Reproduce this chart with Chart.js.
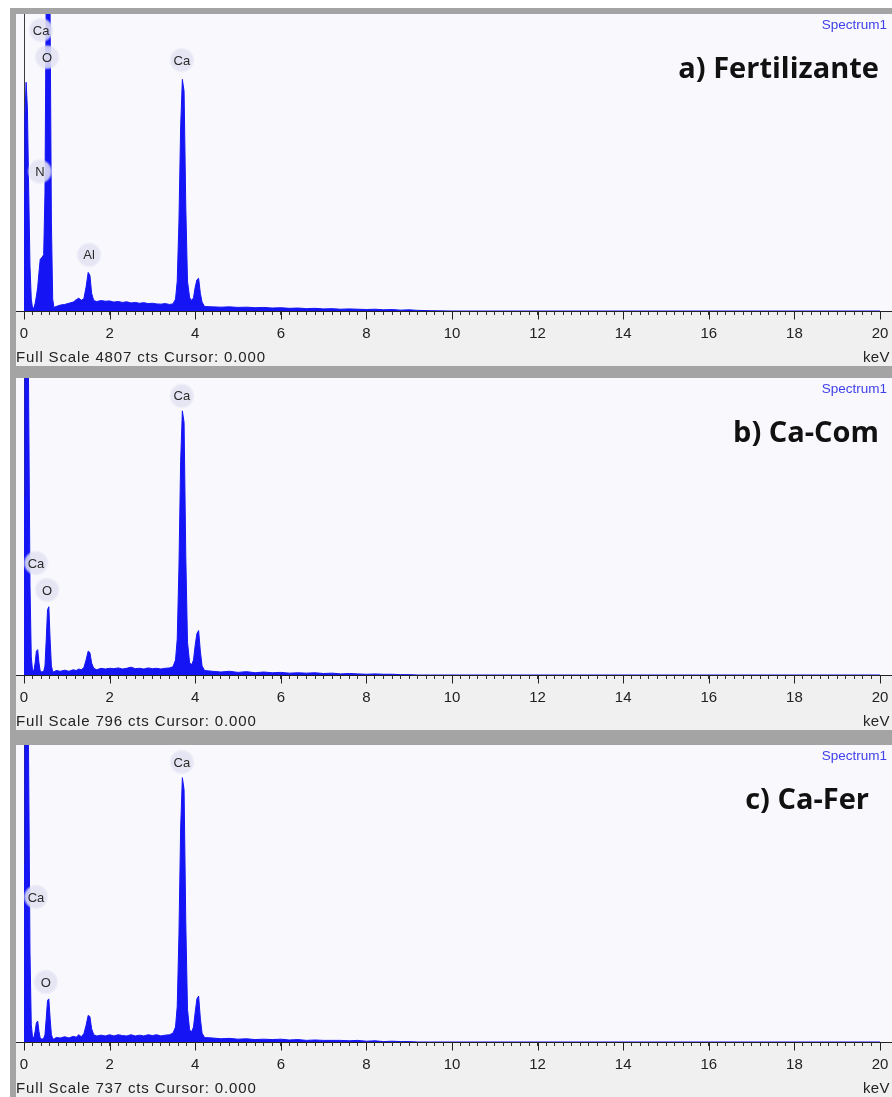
<!DOCTYPE html>
<html lang="es">
<head>
<meta charset="UTF-8">
<title>EDS Spectrum1</title>
<script src="https://cdn.jsdelivr.net/npm/chart.js"></script>
<style>
    html, body { margin: 0; padding: 0; background: #fff; }
    body { width: 892px; height: 1097px; position: relative; overflow: hidden; font-family: "Liberation Sans", Arial, sans-serif; }
    .frame { position: absolute; left: 10px; top: 8px; width: 882px; height: 1089px; background: #a4a4a4; }
    .plotbg { position: absolute; left: 16px; width: 876px; background: #f8f8fd; }
    .axisbg { position: absolute; left: 16px; width: 876px; background: #f0f0f0; }
    canvas { position: absolute; left: 0; }
    .spec { position: absolute; right: 5px; color: #4040ec; font-size: 13.5px; line-height: 16px; }
    .title { position: absolute; font-family: "Open Sans", "Noto Sans", sans-serif; font-weight: 700; font-size: 29px; line-height: 34px; color: #111; white-space: nowrap; }
    .fs { position: absolute; left: 16px; font-size: 15px; letter-spacing: 0.85px; line-height: 18px; color: #222; white-space: nowrap; }
    .kev { position: absolute; right: 2px; font-size: 15px; letter-spacing: 0.4px; line-height: 18px; color: #222; }
</style>
</head>
<body>
<div class="frame"></div>
<script>
    // energy axis (keV), shared by the three spectra
    const energy = [
        0.00, 0.02, 0.05, 0.08, 0.11, 0.14, 0.17, 0.20, 0.23, 0.26, 0.29, 0.32, 0.35, 0.38, 0.42, 0.46, 0.49, 0.52, 0.55, 0.58, 0.61, 0.64, 0.67, 0.70,
        0.75, 0.85, 0.95, 1.05, 1.15, 1.22, 1.28, 1.34, 1.40, 1.45, 1.50, 1.54, 1.58, 1.63, 1.70,
        1.80, 1.90, 2.00, 2.10, 2.20, 2.30, 2.40, 2.50, 2.60, 2.70, 2.80, 2.90, 3.00, 3.10, 3.20, 3.30, 3.40,
        3.48, 3.54, 3.58, 3.62, 3.66, 3.70, 3.74, 3.78, 3.82, 3.87, 3.92, 3.96, 4.00, 4.04, 4.08, 4.12, 4.16, 4.22,
        4.40, 4.60, 4.80, 5.00, 5.20, 5.40, 5.60, 5.80, 6.00, 6.20, 6.40, 6.60, 6.80, 7.00, 7.20, 7.40, 7.60, 7.80, 8.00, 8.20, 8.40, 8.60, 8.80, 9.00, 9.20,
        9.50, 10.0, 20.0
    ];

    // counts, a) Fertilizante
    const countsA = [
        1923, 3125, 3701, 3269, 1923, 721, 192, 48, 48, 120, 240, 385, 625, 841, 865, 913, 1923, 5288, 6730, 6730, 4807, 1442, 192, 58,
        72, 96, 106, 125, 144, 183, 207, 173, 202, 385, 625, 577, 288, 168, 154,
        168, 159, 163, 144, 154, 139, 149, 130, 139, 125, 135, 120, 125, 115, 111, 120, 106,
        115, 192, 481, 1442, 2980, 3749, 3557, 1682, 481, 216, 168, 216, 385, 505, 529, 288, 144, 72,
        67, 62, 67, 58, 62, 53, 58, 48, 53, 43, 48, 38, 43, 34, 38, 29, 34, 29, 24, 29, 19, 24, 14, 19, 10,
        5, 0, 0
    ];

    // counts, b) Ca-Com
    const countsB = [
        478, 955, 1274, 1194, 716, 239, 48, 12, 12, 32, 64, 68, 32, 10, 8, 10, 24, 96, 175, 183, 96, 24, 10, 8,
        12, 10, 13, 10, 14, 12, 16, 14, 20, 40, 64, 60, 32, 18, 14,
        18, 16, 18, 17, 19, 16, 18, 21, 17, 18, 16, 19, 17, 18, 16, 18, 19,
        22, 40, 96, 287, 573, 708, 677, 318, 88, 32, 28, 40, 80, 111, 119, 64, 24, 12,
        10, 8, 10, 7, 9, 6, 8, 6, 7, 5, 6, 5, 6, 4, 5, 3, 4, 3, 2, 3, 2, 2, 1, 1, 0,
        0, 0, 0
    ];

    // counts, c) Ca-Fer
    const countsC = [
        442, 884, 1179, 1106, 663, 221, 44, 11, 11, 26, 48, 52, 26, 9, 7, 9, 18, 59, 103, 107, 59, 18, 9, 7,
        11, 10, 13, 10, 14, 12, 18, 13, 21, 41, 66, 63, 33, 18, 15,
        17, 15, 18, 15, 18, 16, 15, 18, 15, 17, 15, 18, 16, 18, 15, 17, 18,
        22, 37, 88, 265, 531, 656, 626, 295, 81, 29, 26, 37, 74, 107, 114, 59, 22, 11,
        10, 8, 9, 7, 8, 6, 7, 6, 7, 5, 6, 4, 5, 4, 4, 4, 3, 4, 2, 3, 1, 2, 1, 1, 0,
        0, 0, 0
    ];

    const fullScale = [4807, 796, 737];
    const panelTitles = ['a) Fertilizante', 'b) Ca-Com', 'c) Ca-Fer'];
    const majorTicks = [0, 2, 4, 6, 8, 10, 12, 14, 16, 18, 20];
    const cursorKeV = 0.000;

    // element markers: [label, keV, counts]
    const peaksA = [['Ca', 0.40, 4547], ['O', 0.54, 4109], ['N', 0.37, 2258], ['Al', 1.52, 909], ['Ca', 3.69, 4060]];
    const peaksB = [['Ca', 3.69, 748], ['Ca', 0.28, 300], ['O', 0.54, 228]];
    const peaksC = [['Ca', 3.69, 695], ['Ca', 0.28, 360], ['O', 0.51, 149]];

    const panelTops = [14, 378, 745];
    const titleRight = [13, 13, 23];
    const plotH = 297;
    const axisH = 56;

    const series = [countsA, countsB, countsC];
    const peaks = [peaksA, peaksB, peaksC];

    const frameMarks = {
        id: 'frameMarks',
        beforeDatasetsDraw(chart) {
            const {ctx, chartArea, scales} = chart;
            let x = Math.round(scales.x.getPixelForValue(cursorKeV)) + 0.5;
            ctx.save();
            ctx.strokeStyle = '#3c3c3c';
            ctx.lineWidth = 1;
            ctx.beginPath();
            ctx.moveTo(x, chartArea.top);
            ctx.lineTo(x, chartArea.bottom);
            ctx.stroke();
            ctx.restore();
        },
        afterDatasetsDraw(chart, args, opts) {
            const {ctx, scales} = chart;
            ctx.save();
            for (let p of opts.peaks) {
                let x = scales.x.getPixelForValue(p[1]);
                let y = scales.y.getPixelForValue(p[2]);
                let g = ctx.createRadialGradient(x, y, 2, x, y, 13);
                g.addColorStop(0, 'rgba(226,226,242,0.95)');
                g.addColorStop(0.75, 'rgba(226,226,242,0.85)');
                g.addColorStop(1, 'rgba(226,226,242,0)');
                ctx.fillStyle = g;
                ctx.beginPath();
                ctx.arc(x, y, 13, 0, Math.PI * 2);
                ctx.fill();
                ctx.fillStyle = '#2a2a2a';
                ctx.font = '13px "Liberation Sans", Arial, sans-serif';
                ctx.textAlign = 'center';
                ctx.textBaseline = 'middle';
                ctx.fillText(p[0], x, y + 1);
            }
            ctx.restore();
        },
        afterDraw(chart) {
            const {ctx, chartArea, scales} = chart;
            let y = chartArea.bottom + 0.5;
            ctx.save();
            ctx.strokeStyle = '#222';
            ctx.lineWidth = 1;
            ctx.beginPath();
            ctx.moveTo(16, y);
            ctx.lineTo(chart.width, y);
            for (let v of majorTicks) {
                let x = Math.round(scales.x.getPixelForValue(v)) + 0.5;
                ctx.moveTo(x, y);
                ctx.lineTo(x, y + 8);
            }
            ctx.stroke();
            ctx.restore();
        }
    };

    for (let i = 0; i < 3; i++) {
        let top = panelTops[i];

        let bg = document.createElement('div');
        bg.className = 'plotbg';
        bg.style.top = top + 'px';
        bg.style.height = plotH + 'px';
        document.body.appendChild(bg);

        let ax = document.createElement('div');
        ax.className = 'axisbg';
        ax.style.top = (top + plotH) + 'px';
        ax.style.height = (axisH - 1) + 'px';
        document.body.appendChild(ax);

        let cv = document.createElement('canvas');
        cv.width = 892;
        cv.height = plotH + axisH;
        cv.style.top = top + 'px';
        document.body.appendChild(cv);

        let spec = document.createElement('div');
        spec.className = 'spec';
        spec.style.top = (top + 3) + 'px';
        spec.textContent = 'Spectrum1';
        document.body.appendChild(spec);

        let t = document.createElement('div');
        t.className = 'title';
        t.style.top = (top + 36) + 'px';
        t.style.right = titleRight[i] + 'px';
        t.textContent = panelTitles[i];
        document.body.appendChild(t);

        let fs = document.createElement('div');
        fs.className = 'fs';
        fs.style.top = (top + plotH + 37) + 'px';
        fs.textContent = 'Full Scale ' + fullScale[i] + ' cts Cursor: ' + cursorKeV.toFixed(3);
        document.body.appendChild(fs);

        let kev = document.createElement('div');
        kev.className = 'kev';
        kev.style.top = (top + plotH + 37) + 'px';
        kev.textContent = 'keV';
        document.body.appendChild(kev);

        let data = energy.map((e, k) => ({x: e, y: series[i][k]}));

        new Chart(cv, {
            type: 'line',
            data: {
                datasets: [{
                    label: 'Spectrum1',
                    data: data,
                    borderColor: '#1414f5',
                    backgroundColor: '#1414f5',
                    borderWidth: 1,
                    pointRadius: 0,
                    tension: 0,
                    fill: 'origin'
                }]
            },
            options: {
                responsive: false,
                animation: false,
                devicePixelRatio: 1,
                layout: { padding: { left: 24, right: 12, top: 0, bottom: 0 } },
                plugins: {
                    legend: { display: false },
                    tooltip: { enabled: false },
                    frameMarks: { peaks: peaks[i] }
                },
                scales: {
                    x: {
                        type: 'linear',
                        min: 0,
                        max: 20,
                        afterFit: (s) => {
                            s.height = axisH;
                            s.paddingLeft = 0;
                            s.paddingRight = 0;
                        },
                        border: { display: false },
                        grid: { drawOnChartArea: false, drawTicks: true, tickLength: 4, color: '#333' },
                        ticks: {
                            stepSize: 0.2,
                            autoSkip: false,
                            maxRotation: 0,
                            padding: 10,
                            color: '#222',
                            font: { family: '"Liberation Sans", Arial, sans-serif', size: 15 },
                            callback: (v) => {
                                let r = Math.round(v);
                                if (Math.abs(v - r) < 1e-6 && majorTicks.includes(r)) return String(r);
                                return '';
                            }
                        }
                    },
                    y: {
                        display: false,
                        min: 0,
                        max: fullScale[i]
                    }
                }
            },
            plugins: [frameMarks]
        });
    }
</script>
</body>
</html>
